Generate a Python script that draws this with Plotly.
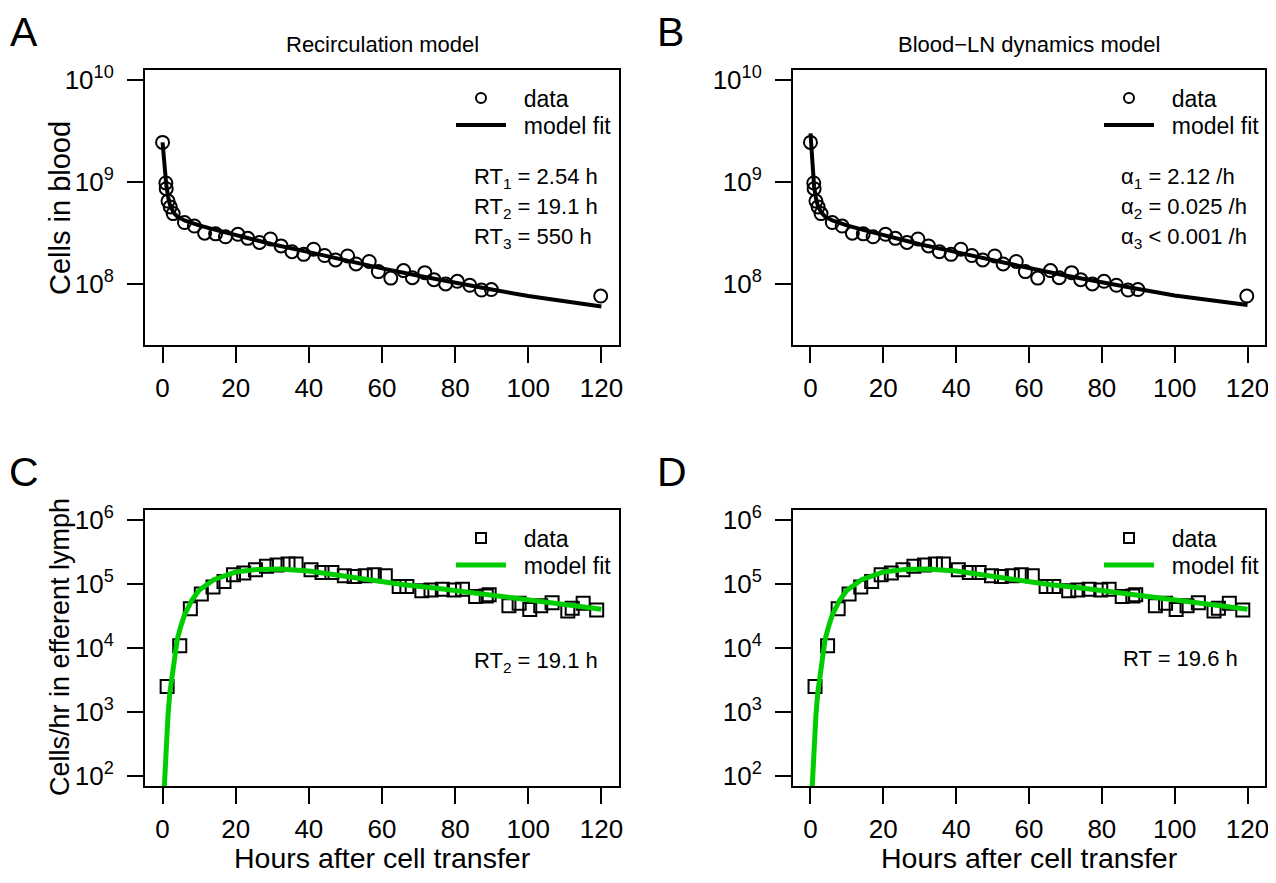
import plotly.graph_objects as go

# ---------------- data ----------------
# Blood counts (panels A and B)
t_blood = [0, 0.9, 1.0, 1.5, 2.1, 2.9, 6, 8.7, 11.5, 14.5, 17.2, 20.6, 23.3, 26.5, 29.5,
           32.4, 35.4, 38.6, 41.3, 44.3, 47.3, 50.6, 52.9, 56.5, 59, 62.4, 65.9, 68.3,
           71.7, 74.2, 77.4, 80.6, 84.0, 87.2, 89.9, 119.8]
cells_blood = [2.45e9, 9.8e8, 8.6e8, 6.5e8, 5.7e8, 4.9e8, 4.0e8, 3.7e8, 3.15e8, 3.1e8,
               2.9e8, 3.07e8, 2.8e8, 2.55e8, 2.76e8, 2.36e8, 2.07e8, 1.95e8, 2.19e8,
               1.9e8, 1.72e8, 1.88e8, 1.57e8, 1.66e8, 1.32e8, 1.14e8, 1.35e8, 1.15e8,
               1.29e8, 1.1e8, 1.0e8, 1.06e8, 9.7e7, 8.7e7, 8.8e7, 7.6e7]

# Model fit curves for blood
t_fit_blood = [0, 0.5, 1, 1.5, 2, 3, 4, 6, 8, 10, 15, 20, 30, 40, 50, 60, 70, 80, 90,
               100, 110, 120]
fit_recirc = [2.45e9, 1.45e9, 9.5e8, 7.2e8, 6.0e8, 5.0e8, 4.6e8, 4.2e8, 3.95e8, 3.75e8,
              3.35e8, 3.0e8, 2.45e8, 2.05e8, 1.7e8, 1.42e8, 1.2e8, 1.02e8, 8.8e7,
              7.6e7, 6.7e7, 6.0e7]
fit_bloodln = [3.0e9, 1.5e9, 9.0e8, 6.9e8, 5.9e8, 5.0e8, 4.6e8, 4.2e8, 3.95e8, 3.75e8,
               3.35e8, 3.0e8, 2.45e8, 2.05e8, 1.7e8, 1.43e8, 1.21e8, 1.03e8, 8.9e7,
               7.7e7, 6.9e7, 6.2e7]

# Efferent lymph (panels C and D)
t_lymph = [1.25, 4.7, 7.6, 10.6, 13.8, 16.8, 19.4, 22.2, 25.4, 28.4, 31.3, 34.3, 36.5,
           40.6, 43.6, 46.3, 49.7, 52.4, 55.4, 57.9, 60.9, 64.7, 66.8, 70.9, 73.4, 76.5,
           79.7, 82.0, 85.6, 88.5, 89.3, 94.7, 97.5, 100.4, 103.4, 106.5, 110.8, 112.0,
           115.0, 118.7]
cells_lymph = [2.5e3, 1.08e4, 4.1e4, 7.0e4, 9.0e4, 1.1e5, 1.4e5, 1.49e5, 1.68e5, 1.9e5,
               2.0e5, 2.06e5, 2.06e5, 1.68e5, 1.52e5, 1.52e5, 1.35e5, 1.32e5, 1.35e5,
               1.4e5, 1.35e5, 9.2e4, 9.2e4, 7.9e4, 8.1e4, 8.3e4, 8.1e4, 8.3e4, 6.4e4,
               6.5e4, 6.8e4, 4.6e4, 5.0e4, 4.0e4, 4.6e4, 5.1e4, 3.8e4, 4.2e4, 5.0e4,
               3.95e4]

t_fit_lymph = [0.4, 0.7, 1.0, 1.5, 2, 3, 4, 5, 6, 8, 10, 14, 20, 26, 32, 40, 48, 57, 66,
               75, 84, 92, 100, 110, 120]
fit_lymph_C = [55, 150, 300, 900, 2000, 6000, 1.35e4, 2.2e4, 3.3e4, 5.6e4, 8.0e4, 1.17e5,
               1.55e5, 1.7e5, 1.72e5, 1.6e5, 1.36e5, 1.14e5, 9.8e4, 8.6e4, 7.4e4, 6.5e4,
               5.7e4, 4.8e4, 4.05e4]
fit_lymph_D = [55, 150, 300, 900, 2000, 6000, 1.35e4, 2.2e4, 3.3e4, 5.6e4, 8.0e4, 1.17e5,
               1.55e5, 1.7e5, 1.72e5, 1.6e5, 1.36e5, 1.14e5, 9.8e4, 8.6e4, 7.4e4, 6.5e4,
               5.7e4, 4.8e4, 4.05e4]

x_ticks = [0, 20, 40, 60, 80, 100, 120]
blood_ticks = [1e8, 1e9, 1e10]
blood_ticktext = ["10<sup>8</sup>", "10<sup>9</sup>", "10<sup>10</sup>"]
lymph_ticks = [1e2, 1e3, 1e4, 1e5, 1e6]
lymph_ticktext = ["10<sup>2</sup>", "10<sup>3</sup>", "10<sup>4</sup>", "10<sup>5</sup>", "10<sup>6</sup>"]

panel_titles = ["Recirculation model", "Blood\u2212LN dynamics model"]
panel_letters = ["A", "B", "C", "D"]
legend_labels = ["data", "model fit"]
params_A = ["RT<sub>1</sub> = 2.54 h", "RT<sub>2</sub> = 19.1 h", "RT<sub>3</sub> = 550 h"]
params_B = ["\u03b1<sub>1</sub> = 2.12 /h", "\u03b1<sub>2</sub> = 0.025 /h", "\u03b1<sub>3</sub> < 0.001 /h"]
params_C = ["RT<sub>2</sub> = 19.1 h"]
params_D = ["RT = 19.6 h"]

# ---------------- layout helpers ----------------
OFF = 8                     # page body margin of the html page
W, H = 1276 - OFF, 883 - OFF
FONT = "Liberation Sans, Arial, Helvetica, sans-serif"
GREEN = "#00CD00"


def px(v):
    return (v - OFF) / W


def py(v):
    return 1 - (v - OFF) / H


cols = [(145, 619), (793, 1265)]
rows = [(70, 345), (510, 786)]

fig = go.Figure()

panels = [
    dict(ax="", col=0, row=0, t=t_blood, v=cells_blood, tf=t_fit_blood, vf=fit_recirc,
         sym="circle-open", color="black"),
    dict(ax="2", col=1, row=0, t=t_blood, v=cells_blood, tf=t_fit_blood, vf=fit_bloodln,
         sym="circle-open", color="black"),
    dict(ax="3", col=0, row=1, t=t_lymph, v=cells_lymph, tf=t_fit_lymph, vf=fit_lymph_C,
         sym="square-open", color=GREEN),
    dict(ax="4", col=1, row=1, t=t_lymph, v=cells_lymph, tf=t_fit_lymph, vf=fit_lymph_D,
         sym="square-open", color=GREEN),
]

axis_common = dict(showline=True, linecolor="black", linewidth=2, mirror=True,
                   ticks="outside", ticklen=16, tickwidth=2, tickcolor="black",
                   showgrid=False, zeroline=False, automargin=False,
                   tickfont=dict(family=FONT, size=26, color="black"))

leg_common = dict(font=dict(family=FONT, size=23, color="black"), bgcolor="rgba(0,0,0,0)",
                  borderwidth=0, xanchor="left", yanchor="middle", itemwidth=50)
legends = {}
leg_idx = 1
PAD = "\u00a0\u00a0"

for p in panels:
    xa = "x" + p["ax"]
    ya = "y" + p["ax"]
    lw = 4 if p["row"] == 0 else 5
    fig.add_trace(go.Scatter(x=p["t"], y=p["v"], mode="markers", xaxis=xa, yaxis=ya,
                             marker=dict(symbol=p["sym"], size=13, color="black",
                                         line=dict(width=2, color="black")),
                             showlegend=False))
    fig.add_trace(go.Scatter(x=p["tf"], y=p["vf"], mode="lines", xaxis=xa, yaxis=ya,
                             line=dict(color=p["color"], width=lw),
                             showlegend=False))

    c0, c1 = cols[p["col"]]
    r0, r1 = rows[p["row"]]
    lx = c0 + 306
    ly0 = r0 + 28
    # legend entries, each in its own legend box for exact placement
    n1 = "legend" if leg_idx == 1 else f"legend{leg_idx}"
    n2 = f"legend{leg_idx + 1}"
    fig.add_trace(go.Scatter(x=[None], y=[None], mode="markers", xaxis=xa, yaxis=ya,
                             name=PAD + legend_labels[0], legend=n1,
                             marker=dict(symbol=p["sym"], size=10, color="black",
                                         line=dict(width=2, color="black"))))
    fig.add_trace(go.Scatter(x=[None], y=[None], mode="lines", xaxis=xa, yaxis=ya,
                             name=PAD + legend_labels[1], legend=n2,
                             line=dict(color=p["color"], width=lw)))
    legends[n1] = dict(x=px(lx), y=py(ly0), **leg_common)
    legends[n2] = dict(x=px(lx), y=py(ly0 + 27), **leg_common)
    leg_idx += 2

    xkey = "xaxis" + p["ax"]
    ykey = "yaxis" + p["ax"]
    fig.layout[xkey] = dict(domain=[px(c0), px(c1)], anchor=ya, range=[-4.8, 124.8],
                            tickvals=x_ticks, ticklabelstandoff=3, **axis_common)
    if p["row"] == 0:
        yr = [7.4, 10.1]
        tv, tt = blood_ticks, blood_ticktext
    else:
        yr = [1.84, 6.16]
        tv, tt = lymph_ticks, lymph_ticktext
    fig.layout[ykey] = dict(domain=[py(r1), py(r0)], anchor=xa, type="log", range=yr,
                            tickvals=tv, ticktext=tt, ticklabelstandoff=8, **axis_common)

annotations = []
# panel letters
for letter, (x, y) in zip(panel_letters, [(24, 32), (670, 32), (24, 472), (672, 472)]):
    annotations.append(dict(text=letter, x=px(x), y=py(y), xref="paper", yref="paper",
                            showarrow=False, xanchor="center", yanchor="middle",
                            borderpad=0,
                            font=dict(family=FONT, size=41, color="black")))
# panel titles
for title, x in zip(panel_titles, [382, 1029]):
    annotations.append(dict(text=title, x=px(x), y=py(44), xref="paper", yref="paper",
                            showarrow=False, xanchor="center", yanchor="middle",
                            font=dict(family=FONT, size=22, color="black")))
# axis titles
for x in [382, 1029]:
    annotations.append(dict(text="Hours after cell transfer", x=px(x), y=py(858),
                            xref="paper", yref="paper", showarrow=False,
                            xanchor="center", yanchor="middle", borderpad=0,
                            font=dict(family=FONT, size=28.5, color="black")))
annotations.append(dict(text="Cells in blood", x=px(60), y=py(208), xref="paper",
                        yref="paper", showarrow=False, textangle=-90,
                        xanchor="center", yanchor="middle",
                        font=dict(family=FONT, size=29, color="black")))
annotations.append(dict(text="Cells/hr in efferent lymph", x=px(60), y=py(647),
                        xref="paper", yref="paper", showarrow=False, textangle=-90,
                        xanchor="center", yanchor="middle",
                        font=dict(family=FONT, size=27, color="black")))
# parameter texts
for lines, x0, ys in [(params_A, 472, [178, 208, 238]), (params_B, 1119, [178, 208, 238]),
                      (params_C, 472, [662]), (params_D, 1121, [658])]:
    for s, y in zip(lines, ys):
        annotations.append(dict(text=s, x=px(x0), y=py(y), xref="paper", yref="paper",
                                showarrow=False, xanchor="left", yanchor="middle",
                                font=dict(family=FONT, size=22, color="black")))

fig.update_layout(
    width=W, height=H, margin=dict(l=0, r=0, t=0, b=0, autoexpand=False),
    paper_bgcolor="white", plot_bgcolor="white",
    annotations=annotations,
    **legends,
)

fig.write_html("out.html")
